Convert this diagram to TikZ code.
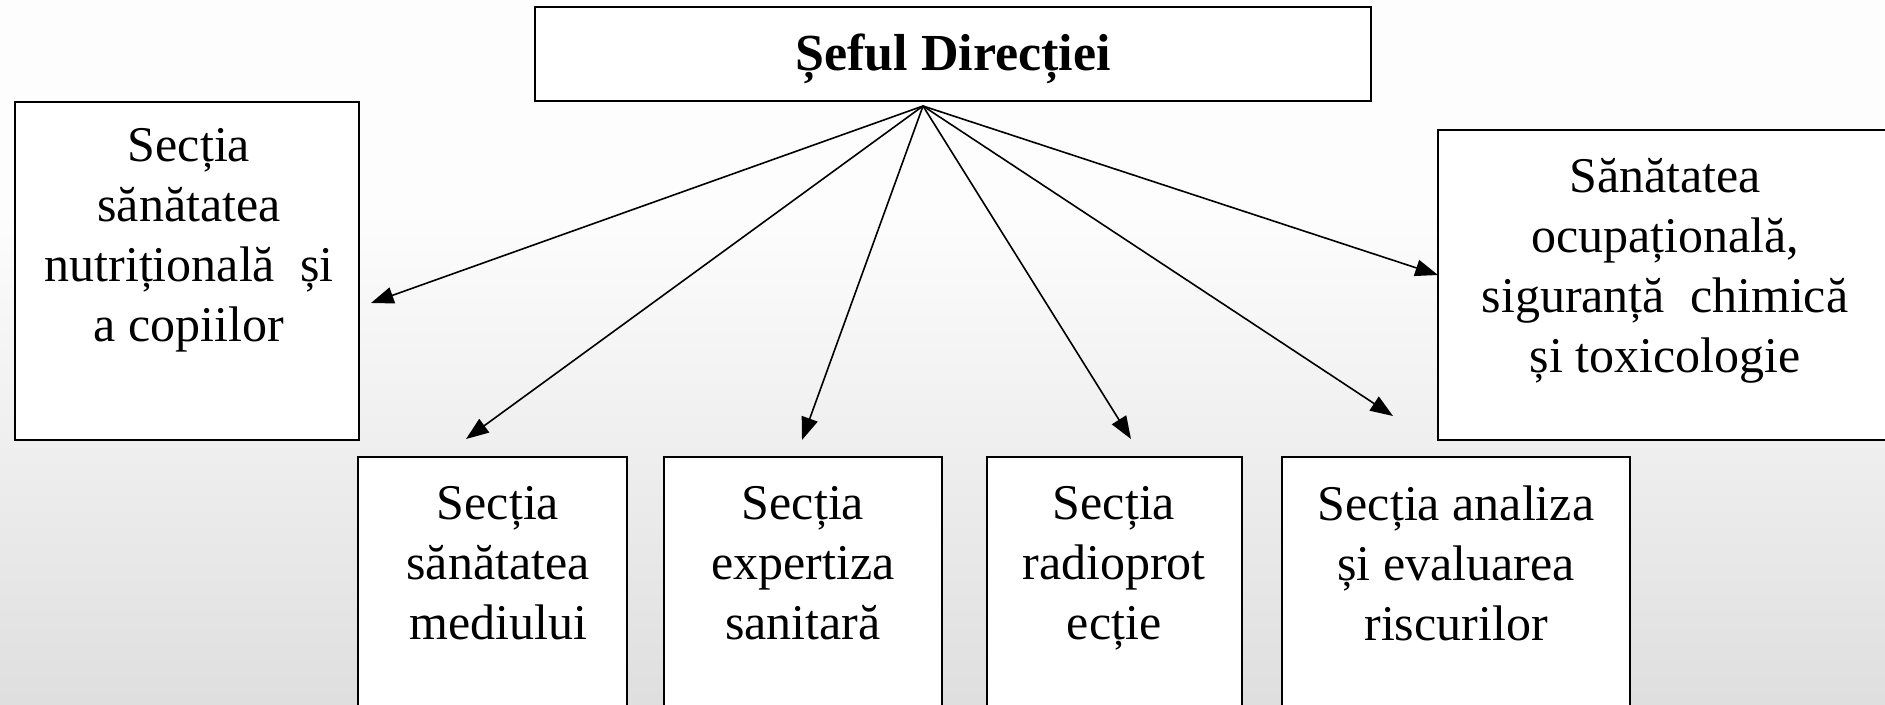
\documentclass[tikz,border=0pt]{standalone}
\usepackage{fontspec}
\setmainfont{Liberation Serif}
\usetikzlibrary{arrows.meta,fit,calc}
\definecolor{bgtop}{HTML}{EEEEEE}
\definecolor{bgmid}{HTML}{FDFDFD}
\definecolor{bgbot}{HTML}{D0D0D0}
\pgfdeclareverticalshading{bgshade}{100bp}{color(0bp)=(bgbot); color(8bp)=(bgbot); color(60bp)=(bgmid); color(85bp)=(bgmid); color(100bp)=(bgtop)}
\tikzset{
  box/.style={draw=black, line width=1.5pt, fill=white, inner sep=0pt},
  lbl/.style={font=\fontsize{37.5}{45}\selectfont, align=center, inner sep=0pt, anchor=north},
  ttl/.style={font=\fontsize{39}{45}\selectfont\bfseries, inner sep=0pt, anchor=base},
  link/.style={line width=1.2pt, -{Triangle[length=17pt,width=12.5pt]}}
}
\begin{document}
\begin{tikzpicture}[x=0.75pt,y=-0.75pt]
\clip (0,0) rectangle (1885,704);
\shade[shading=bgshade] (0,0) rectangle (1885,704);
% boxes
\node[box, fit={(535,7) (1371,101)}] (T) {};
\node[box, fit={(15,102) (359,440)}] (L) {};
\node[box, fit={(1438,130) (1892,440)}] (R) {};
\node[box, fit={(358,457) (627,720)}] (B1) {};
\node[box, fit={(664,457) (942,720)}] (B2) {};
\node[box, fit={(987,457) (1242,720)}] (B3) {};
\node[box, fit={(1282,457) (1630,720)}] (B4) {};
% texts
\node[ttl] (tT) at (953,70) {Șeful Direcției};
\node[lbl] (tL) at (189,128) {Secția\\ sănătatea\\ nutrițională\ \ și\\ a copiilor};
\node[lbl] (tR) at (1665,158) {Sănătatea\\ ocupațională,\\ siguranță\ \ chimică\\ și toxicologie};
\node[lbl] (tB1) at (498,486) {Secția\\ sănătatea\\ mediului};
\node[lbl] (tB2) at (803,486) {Secția\\ expertiza\\ sanitară};
\node[lbl] (tB3) at (1114,486) {Secția\\ radioprot\\ ecție};
\node[lbl] (tB4) at (1456,486) {Secția analiza\\ și evaluarea\\ riscurilor};
% connector ends
\coordinate (o) at (923,106);
\coordinate (eL) at (371,303);
\coordinate (eB1) at (466,439);
\coordinate (eB2) at (802,440);
\coordinate (eB3) at (1131,439);
\coordinate (eB4) at (1393,416);
\coordinate (eR) at (1438,275);
\draw[link] (o) -- (eL);
\draw[link] (o) -- (eB1);
\draw[link] (o) -- (eB2);
\draw[link] (o) -- (eB3);
\draw[link] (o) -- (eB4);
\draw[link] (o) -- (eR);
\end{tikzpicture}
\end{document}
